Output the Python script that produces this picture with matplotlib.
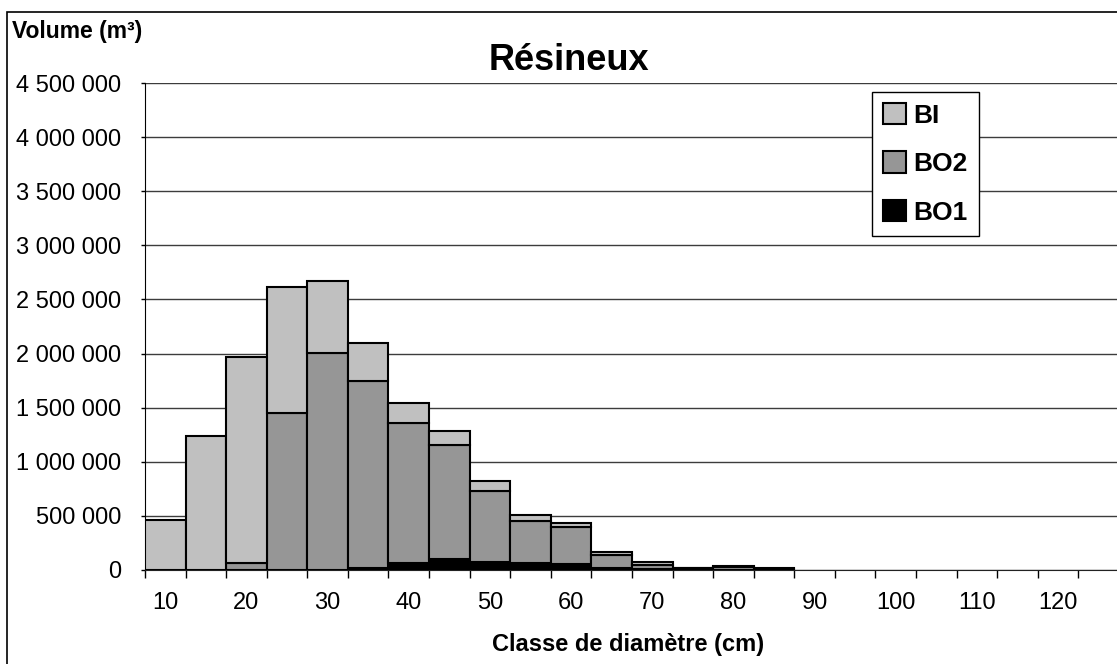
import numpy as np
import matplotlib
matplotlib.use("Agg")
import matplotlib.pyplot as plt
from matplotlib.patches import Rectangle
from matplotlib.ticker import FuncFormatter, FixedLocator

plt.rcParams["font.family"] = ["Liberation Sans", "DejaVu Sans"]

# diameter classes (cm)
classes = list(range(10, 130, 5))
# volumes (m3)
bo1 = [0, 0, 0, 0, 3000, 15000, 62000, 99000, 77000, 62000, 58000, 15000,
       5000, 5000, 4000, 5000, 0, 0, 0, 0, 0, 0, 0, 0]
bo2 = [0, 0, 67000, 1454000, 2000000, 1735000, 1299000, 1059000, 656000,
       394000, 342000, 124000, 44000, 10000, 26000, 8000, 0, 0, 0, 0, 0, 0, 0, 0]
bi = [462000, 1238000, 1904000, 1164000, 671000, 351000, 185000, 129000,
      92000, 55000, 37000, 24000, 22000, 5000, 8000, 5000, 0, 0, 0, 0, 0, 0, 0, 0]

W, H = 1117, 664
fig = plt.figure(figsize=(W / 100, H / 100), dpi=100)
ax = fig.add_axes([145 / W, (H - 570) / H, (1119 - 145) / W, (570 - 83) / H])

x = np.arange(len(classes))
bo1 = np.array(bo1)
bo2 = np.array(bo2)
bi = np.array(bi)


def edges(vals):
    # empty segments get no outline
    return ["black" if v > 0 else "none" for v in vals]


kw = dict(width=1.0, linewidth=1.5, zorder=3)
h1 = ax.bar(x, bo1, color="black", edgecolor=edges(bo1), label="BO1", **kw)
h2 = ax.bar(x, bo2, bottom=bo1, color="#969696", edgecolor=edges(bo2), label="BO2", **kw)
h3 = ax.bar(x, bi, bottom=bo1 + bo2, color="#c0c0c0", edgecolor=edges(bi), label="BI", **kw)

ax.set_xlim(-0.5, len(classes) - 0.5)
ax.set_ylim(0, 4500000)
ax.set_yticks(np.arange(0, 4500001, 500000))
ax.yaxis.set_major_formatter(FuncFormatter(lambda v, p: f"{v:,.0f}".replace(",", " ")))
ax.yaxis.grid(True, color="#3c3c3c", linewidth=1.0, zorder=0)
ax.set_axisbelow(True)

# labels every other class, tick marks on class boundaries
ax.xaxis.set_major_locator(FixedLocator(x[::2]))
ax.set_xticklabels([str(c) for c in classes[::2]])
ax.xaxis.set_minor_locator(FixedLocator(np.arange(-0.5, len(classes), 1.0)))
ax.tick_params(axis="x", which="major", length=0, pad=16, labelsize=17)
ax.tick_params(axis="x", which="minor", length=6, width=1, direction="out")
ax.tick_params(axis="y", length=3, width=1, pad=14, labelsize=17)

for s in ["top", "right"]:
    ax.spines[s].set_visible(False)
ax.spines["left"].set_color("black")
ax.spines["bottom"].set_color("#222222")

fig.text(12 / W, 1 - 38 / H, "Volume (m³)", fontsize=16.5, fontweight="bold", va="baseline")
fig.text(569 / W, 1 - 70 / H, "Résineux", fontsize=26, fontweight="bold", ha="center", va="baseline")
fig.text(628 / W, 1 - 644 / H, "Classe de diamètre (cm)", fontsize=17, fontweight="bold",
         ha="center", va="center")

leg = ax.legend(handles=[h3, h2, h1], labels=["BI", "BO2", "BO1"],
                loc="upper left", bbox_to_anchor=(872 / W, 1 - 92 / H),
                bbox_transform=fig.transFigure, borderaxespad=0,
                prop={"weight": "bold", "size": 19}, fancybox=False,
                framealpha=1, edgecolor="black", handlelength=0.85,
                handleheight=0.85, handletextpad=0.3, borderpad=0.42,
                labelspacing=0.9)
leg.get_frame().set_linewidth(1.0)
for p in leg.get_patches():
    p.set_edgecolor("black")

fig.patches.append(Rectangle((7 / W, -0.1), 2, 1.1 - 12 / H, transform=fig.transFigure,
                             fill=False, edgecolor="black", linewidth=1.2, zorder=10))

fig.savefig("out.png", dpi=100)
